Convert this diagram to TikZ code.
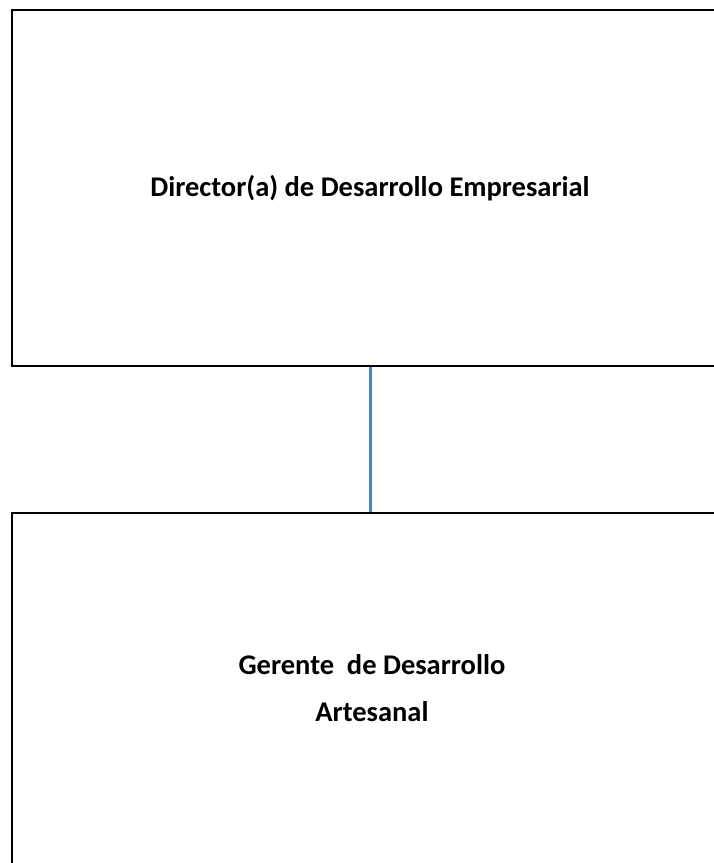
\documentclass[tikz,border=0pt]{standalone}
\usepackage{fontspec}
\setmainfont{Carlito}
\definecolor{linkblue}{HTML}{4F81BD}
\begin{document}
\begin{tikzpicture}[x=1pt, y=-1pt]
\tikzstyle{box}=[draw, line width=1.6pt, rectangle, minimum width=716pt, inner sep=0pt]
\tikzstyle{txt}=[font=\bfseries\fontsize{28.5}{47}\selectfont, align=center, inner sep=0pt]
\useasboundingbox (0,0) rectangle (713,863);
\node[box,minimum height=356pt,txt](dir) at (370,188) {Director(a) de Desarrollo Empresarial};
\node[box,minimum height=387pt](ger) at (370,706.5) {};
\node[txt](gertxt) at (372,688) {Gerente~~de Desarrollo\\Artesanal};
\draw[linkblue, line width=3pt] (dir.south) -- (ger.north);
\end{tikzpicture}
\end{document}
